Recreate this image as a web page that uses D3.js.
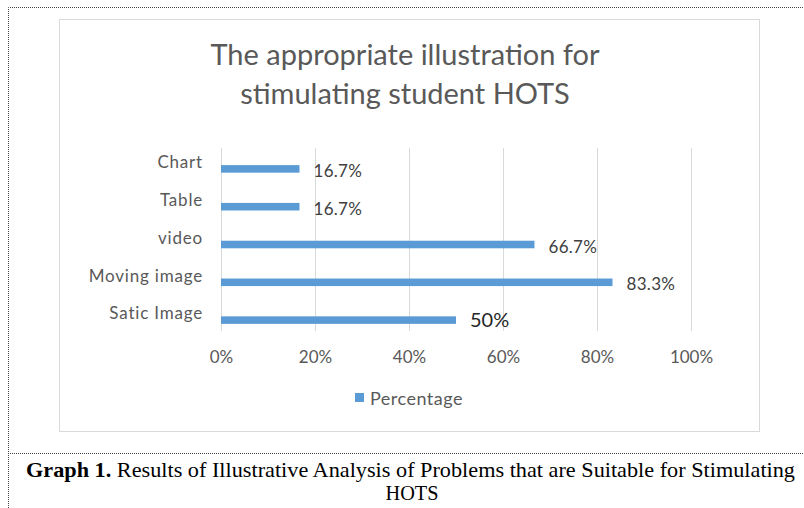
<!DOCTYPE html>
<html>
<head>
<meta charset="utf-8">
<script src="https://cdn.jsdelivr.net/npm/d3@7"></script>
<style>
  body { margin: 0; background: #fff; }
  svg { display: block; }
</style>
</head>
<body>
<div id="chart"></div>
<script>
let width = 804, height = 508;

// data
let categories = ["Chart", "Table", "video", "Moving image", "Satic Image"];
let percentages = [16.7, 16.7, 66.7, 83.3, 50];
let valueLabels = ["16.7%", "16.7%", "66.7%", "83.3%", "50%"];
let xTicks = [0, 20, 40, 60, 80, 100];
let titleLines = ["The appropriate illustration for", "stimulating student HOTS"];
let seriesName = "Percentage";

let font = "Lato, 'Open Sans', sans-serif";

let svg = d3.select("#chart").append("svg")
    .attr("width", width)
    .attr("height", height);

// dotted page frame
svg.append("path")
    .attr("d", "M8.5,508 V7.5 H804")
    .attr("fill", "none")
    .attr("stroke", "#444")
    .attr("stroke-width", 1)
    .attr("stroke-dasharray", "1,1");
svg.append("line")
    .attr("x1", 8).attr("x2", 804)
    .attr("y1", 453.5).attr("y2", 453.5)
    .attr("stroke", "#444")
    .attr("stroke-dasharray", "1,1");

// chart box
svg.append("rect")
    .attr("x", 59.5).attr("y", 19.5)
    .attr("width", 700).attr("height", 412)
    .attr("fill", "#fff")
    .attr("stroke", "#d9d9d9");

// title
svg.append("g").selectAll("text")
    .data(titleLines)
    .enter().append("text")
    .attr("x", 405)
    .attr("y", (d, i) => 65 + i * 39)
    .attr("text-anchor", "middle")
    .attr("font-family", font)
    .attr("font-size", 29)
    .attr("fill", "#595959")
    .text(d => d);

// scales
let x = d3.scaleLinear().domain([0, 100]).range([221, 691]);
let y = d3.scaleBand().domain(categories).range([150, 339]).paddingInner(0.8).paddingOuter(0.4);

// gridlines
svg.append("g").selectAll("line")
    .data(xTicks)
    .enter().append("line")
    .attr("x1", d => Math.round(x(d)) + 0.5)
    .attr("x2", d => Math.round(x(d)) + 0.5)
    .attr("y1", 148).attr("y2", 331)
    .attr("stroke", "#d9d9d9");

// x axis
let xAxis = svg.append("g")
    .attr("transform", "translate(0,331)")
    .call(d3.axisBottom(x).tickValues(xTicks).tickFormat(d => d + "%").tickSize(0).tickPadding(20));
xAxis.select(".domain").remove();
xAxis.selectAll("text")
    .attr("font-family", font)
    .attr("font-size", 17)
    .attr("fill", "#595959");

// bars
svg.append("g").selectAll("rect")
    .data(categories)
    .enter().append("rect")
    .attr("x", x(0))
    .attr("y", d => y(d))
    .attr("width", (d, i) => x(percentages[i]) - x(0))
    .attr("height", y.bandwidth())
    .attr("fill", "#5b9bd5");

// category labels (sit a bit above the bars)
svg.append("g").selectAll("text")
    .data(categories)
    .enter().append("text")
    .attr("x", 203)
    .attr("y", d => y(d) + 3)
    .attr("text-anchor", "end")
    .attr("font-family", font)
    .attr("font-size", 17)
    .attr("letter-spacing", "0.8px")
    .attr("fill", "#595959")
    .text(d => d);

// value labels
svg.append("g").selectAll("text")
    .data(categories)
    .enter().append("text")
    .attr("x", (d, i) => x(percentages[i]) + 14)
    .attr("y", (d, i) => y(d) + y.bandwidth() / 2 + (i == 4 ? 7 : 8))
    .attr("font-family", font)
    .attr("font-size", (d, i) => i == 4 ? 20 : 17)
    .attr("letter-spacing", (d, i) => i == 4 ? "0px" : "0.3px")
    .attr("fill", (d, i) => i == 4 ? "#262626" : "#404040")
    .text((d, i) => valueLabels[i]);

// legend
svg.append("rect")
    .attr("x", 355).attr("y", 393)
    .attr("width", 9).attr("height", 9)
    .attr("fill", "#5b9bd5");
svg.append("text")
    .attr("x", 370).attr("y", 405)
    .attr("font-family", font)
    .attr("font-size", 18)
    .attr("letter-spacing", "0.5px")
    .attr("fill", "#595959")
    .text(seriesName);

// caption
let cap = svg.append("text")
    .attr("x", 26).attr("y", 477)
    .attr("font-family", "'Liberation Serif', 'Times New Roman', serif")
    .attr("font-size", 22)
    .attr("fill", "#000")
    .attr("textLength", 769)
    .attr("lengthAdjust", "spacingAndGlyphs");
cap.append("tspan").attr("font-weight", "bold").text("Graph 1.");
cap.append("tspan").text(" Results of Illustrative Analysis of Problems that are Suitable for Stimulating");
svg.append("text")
    .attr("x", 412).attr("y", 500)
    .attr("text-anchor", "middle")
    .attr("font-family", "'Liberation Serif', 'Times New Roman', serif")
    .attr("font-size", 22)
    .attr("fill", "#000")
    .attr("textLength", 53)
    .attr("lengthAdjust", "spacingAndGlyphs")
    .text("HOTS");
</script>
</body>
</html>
